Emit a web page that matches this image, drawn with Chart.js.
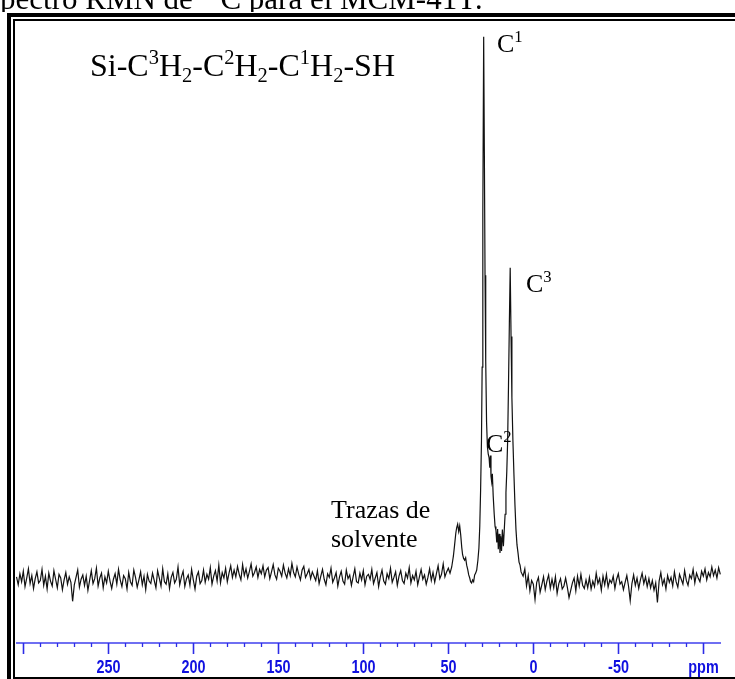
<!DOCTYPE html>
<html>
<head>
<meta charset="utf-8">
<script src="https://cdn.jsdelivr.net/npm/chart.js@4.4.1/dist/chart.umd.min.js"></script>
<style>
html, body { margin: 0; padding: 0; background: #fff; }
canvas { display: block; }
</style>
</head>
<body>
<canvas id="mySpectrum" width="735" height="679"></canvas>
<script>
// 13C spectrum, flat parts sampled every 1 ppm
const stepPpm = 1;
const leftStartPpm = 304;
const leftBaseline = [
    10.8, 9.5, 11.3, 10.0, 11.7, 9.2, 10.6, 12.1, 9.7, 11.0, 8.9, 10.5, 11.6, 9.8, 10.2, 12.0,
    9.4, 10.9, 8.8, 11.4, 10.1, 9.3, 11.8, 10.4, 9.0, 11.2, 10.6, 8.7, 10.3, 11.5, 9.6, 10.8,
    9.9, 6.8, 9.5, 10.7, 11.9, 9.1, 10.4, 11.1, 9.4, 10.9, 8.6, 10.2, 11.8, 9.7, 10.5, 12.2,
    9.3, 10.6, 11.4, 9.0, 10.8, 9.8, 11.7, 10.1, 8.9, 10.4, 11.3, 9.6, 12.0, 10.3, 9.2, 11.0,
    10.5, 8.8, 11.5, 10.0, 9.4, 11.9, 10.7, 9.1, 10.3, 11.6, 9.5, 10.9, 8.7, 11.2, 10.1, 9.7,
    11.4, 10.2, 9.0, 11.8, 10.6, 9.3, 12.1, 10.0, 9.6, 11.3, 8.9, 10.7, 11.5, 9.8, 10.4, 12.4,
    9.5, 10.8, 11.7, 9.2, 10.5, 11.1, 9.4, 12.0, 10.3, 8.8, 10.9, 11.6, 9.7, 10.2, 11.9, 9.9,
    11.2, 10.4, 12.3, 9.6, 10.9, 11.8, 10.1, 12.7, 9.8, 11.5, 10.6, 12.2, 10.0, 11.4, 12.6, 10.7,
    11.9, 10.8, 12.5, 11.2, 10.3, 12.8, 11.0, 12.1, 10.6, 11.7, 12.9, 10.9, 11.5, 12.4, 10.7, 12.0,
    11.3, 12.6, 10.8, 11.9, 12.3, 10.5, 11.6, 12.8, 11.1, 10.4, 12.2, 11.7, 10.9, 12.7, 11.4, 10.6,
    12.1, 11.0, 13.0, 11.5, 10.8, 12.4, 11.2, 10.3, 11.9, 12.5, 10.7, 11.3, 12.0, 10.5, 11.6, 10.9,
    10.2, 11.8, 9.7, 10.9, 12.0, 10.4, 9.5, 11.3, 10.7, 12.2, 9.9, 10.6, 11.5, 9.3, 10.8, 11.7,
    10.1, 9.6, 11.9, 10.5, 11.1, 9.4, 10.8, 12.1, 10.0, 9.8, 11.4, 10.3, 11.8, 9.5, 10.9, 11.2,
    10.4, 12.0, 9.7, 10.6, 11.5, 9.2, 10.8, 11.9, 10.1, 9.6, 11.3, 10.5, 12.2, 9.9, 10.7, 11.6,
    9.4, 10.9, 11.8, 10.2, 9.7, 11.4, 10.6, 12.3, 9.8, 11.0, 10.3, 11.7, 9.5, 10.8, 12.0, 10.4,
    11.1, 9.6, 10.7, 12.1, 10.2, 11.5, 9.9, 11.3, 12.6, 10.5, 11.2, 12.9, 10.8, 11.6, 12.2, 11.4
];

// solvent trace, C1, C2 shoulder and C3
const peakPpm = [
    48.0, 47.0, 46.3, 45.6, 45.1, 44.5, 43.9, 43.3, 42.7, 42.1,
    41.6, 41.0, 40.4, 39.8, 39.2, 38.6, 38.0, 37.4, 36.9, 36.3,
    35.7, 35.1, 34.5, 33.9, 33.3, 32.6, 32.0, 31.5, 31.0, 30.5,
    30.1, 29.7, 29.2, 28.8, 28.4, 28.0, 27.5, 27.0, 26.5, 26.0,
    25.6, 25.2, 24.9, 24.5, 24.1, 23.6, 23.0, 22.5, 22.0, 21.5,
    21.0, 20.6, 20.1, 19.6, 19.2, 18.7, 18.2, 17.6, 17.1, 16.6,
    16.1, 15.6, 15.1, 14.6, 14.1, 13.6, 13.1, 12.6, 12.0, 11.4,
    10.8, 10.2, 9.6, 9.0, 8.4, 7.8, 7.2
];
const peakIntensity = [
    12.4, 14.2, 16.0, 17.9, 18.8, 19.4, 18.2, 19.1, 17.6, 15.6,
    14.4, 13.8, 13.5, 13.9, 12.7, 12.0, 11.1, 10.6, 10.0, 9.8,
    10.3, 10.0, 11.1, 11.4, 11.9, 13.5, 15.5, 19.0, 25.0, 33.0,
    45.0, 70.0, 98.9, 80.0, 60.0, 46.0, 36.0, 32.0, 30.8, 30.2,
    28.6, 30.6, 27.2, 26.3, 27.6, 24.0, 21.0, 19.0, 18.4, 16.4,
    18.6, 15.3, 17.8, 14.7, 17.4, 15.0, 18.5, 15.8, 18.4, 21.0,
    24.5, 28.0, 33.0, 42.0, 52.0, 61.2, 50.0, 40.0, 33.0, 27.5,
    22.5, 18.5, 16.0, 14.7, 13.2, 12.7, 11.6
];

const rightStartPpm = 6;
const rightBaseline = [
    10.9, 12.1, 9.3, 11.0, 8.5, 10.2, 9.6, 7.1, 9.9, 10.7, 8.3, 9.5, 10.8,
    8.7, 10.1, 11.1, 8.9, 10.4, 9.0, 10.8, 8.1, 9.7, 10.5, 8.8, 9.3, 10.6,
    9.1, 7.4, 8.6, 9.8, 10.6, 8.5, 10.9, 9.3, 11.2, 9.4, 8.9, 10.3, 9.0,
    10.7, 8.8, 10.1, 9.2, 11.4, 9.7, 10.5, 8.6, 10.9, 9.5, 11.2, 9.1, 10.3,
    9.8, 10.9, 8.9, 10.4, 11.3, 9.6, 10.0, 8.7, 9.9, 11.0, 9.3, 6.9, 9.7,
    11.1, 9.4, 10.6, 8.9, 10.3, 11.4, 9.7, 10.8, 9.2, 10.5, 9.0, 10.2, 8.6,
    9.8, 6.6, 10.1, 11.5, 9.5, 10.4, 8.8, 11.0, 9.9, 10.7, 9.3, 11.6, 10.0,
    9.1, 11.2, 10.4, 9.6, 11.8, 10.2, 9.4, 11.1, 10.5, 12.0, 9.8, 11.4, 10.6,
    10.0, 11.7, 10.9, 12.1, 10.3, 11.5, 10.8, 12.4, 11.0, 11.9, 10.6, 12.3, 11.2
];

const majorTicks = [300, 250, 200, 150, 100, 50, 0, -50, -100];
const majorLabels = ['', '250', '200', '150', '100', '50', '0', '-50', 'ppm'];

const serif = '"Liberation Serif", "Times New Roman", serif';

function spectrumPoints() {
    const pts = [];
    leftBaseline.forEach((v, i) => pts.push({ x: leftStartPpm - i * stepPpm, y: v }));
    peakPpm.forEach((p, i) => pts.push({ x: p, y: peakIntensity[i] }));
    rightBaseline.forEach((v, i) => pts.push({ x: rightStartPpm - i * stepPpm, y: v }));
    return pts;
}

// text with superscripts / subscripts
function drawRich(ctx, parts, x, y, size) {
    parts.forEach(p => {
        const small = p.sup || p.sub;
        const s = small ? size * 0.64 : size;
        ctx.font = s + 'px ' + serif;
        const dy = p.sup ? -size * 0.38 : (p.sub ? size * 0.2 : 0);
        ctx.fillText(p.t, x, y + dy);
        x += ctx.measureText(p.t).width;
    });
}

const decorations = {
    id: 'decorations',
    afterDraw(chart) {
        const ctx = chart.ctx;
        const area = chart.chartArea;
        const xs = chart.scales.x;
        ctx.save();
        ctx.fillStyle = '#000';
        ctx.textBaseline = 'alphabetic';
        ctx.textAlign = 'left';

        // caption above the box
        ctx.font = '31px ' + serif;
        const es = ctx.measureText('Es').width;
        drawRich(ctx, [
            { t: 'Espectro RMN de ' }, { t: '13', sup: true }, { t: 'C para el MCM-41T:' }
        ], -es, 9, 31);

        // double frame
        ctx.fillStyle = '#fff';
        ctx.fillRect(0, 12, 735, 7);
        ctx.fillStyle = '#000';
        ctx.fillRect(7, 13, 728, 4);
        ctx.fillRect(7, 13, 4, 666);
        ctx.fillRect(13, 19, 722, 2);
        ctx.fillRect(13, 19, 2, 660);
        ctx.fillRect(13, 677, 722, 2);

        // ppm axis
        const axisY = 643;
        ctx.fillStyle = '#6f6ff2';
        ctx.fillRect(area.left, axisY - 1, area.right - area.left, 2);
        ctx.strokeStyle = '#2c2ce6';
        ctx.lineWidth = 1.3;
        for (let v = 300; v >= -100; v -= 10) {
            if (v % 50 === 0) continue;
            const px = Math.round(xs.getPixelForValue(v)) + 0.5;
            ctx.beginPath();
            ctx.moveTo(px, axisY);
            ctx.lineTo(px, axisY + 4);
            ctx.stroke();
        }
        ctx.lineWidth = 1.6;
        ctx.fillStyle = '#1010e0';
        majorTicks.forEach((v, i) => {
            const px = Math.round(xs.getPixelForValue(v)) + 0.5;
            ctx.beginPath();
            ctx.moveTo(px, axisY);
            ctx.lineTo(px, axisY + 11);
            ctx.stroke();
            if (!majorLabels[i]) return;
            ctx.save();
            ctx.translate(px, 673);
            ctx.scale(0.8, 1);
            ctx.font = 'bold 18px "Liberation Sans", Arial, sans-serif';
            ctx.textAlign = 'center';
            ctx.fillText(majorLabels[i], 0, 0);
            ctx.restore();
        });

        // peak labels
        ctx.fillStyle = '#000';
        drawRich(ctx, [
            { t: 'Si-C' }, { t: '3', sup: true }, { t: 'H' }, { t: '2', sub: true },
            { t: '-C' }, { t: '2', sup: true }, { t: 'H' }, { t: '2', sub: true },
            { t: '-C' }, { t: '1', sup: true }, { t: 'H' }, { t: '2', sub: true }, { t: '-SH' }
        ], 90, 76, 32);
        drawRich(ctx, [{ t: 'C' }, { t: '1', sup: true }], 497, 52, 26);
        drawRich(ctx, [{ t: 'C' }, { t: '2', sup: true }], 486, 452, 26);
        drawRich(ctx, [{ t: 'C' }, { t: '3', sup: true }], 526, 292, 26);
        ctx.font = '26px ' + serif;
        ctx.fillText('Trazas de', 331, 518);
        ctx.fillText('solvente', 331, 547);
        ctx.restore();
    }
};

function spectrum() {
    const data = {
        datasets: [{
            data: spectrumPoints(),
            borderColor: '#111',
            borderWidth: 1.2,
            pointRadius: 0,
            tension: 0,
            fill: false
        }]
    };

    const config = {
        type: 'line',
        data: data,
        options: {
            responsive: false,
            animation: false,
            layout: { padding: { left: 16, right: 14, top: 30, bottom: 36 } },
            plugins: {
                legend: { display: false },
                tooltip: { enabled: false }
            },
            scales: {
                x: { type: 'linear', reverse: true, min: -110.4, max: 304.3, display: false },
                y: { min: 0, max: 100, display: false }
            }
        },
        plugins: [decorations]
    };

    new Chart(document.getElementById('mySpectrum'), config);
}

spectrum();
</script>
</body>
</html>
